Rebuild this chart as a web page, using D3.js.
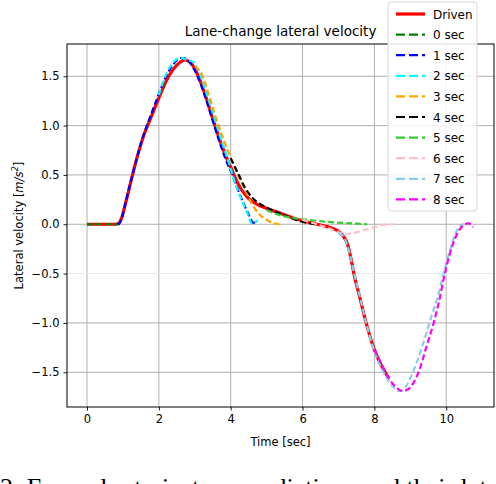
<!DOCTYPE html>
<html><head><meta charset="utf-8">
<script src="https://cdn.jsdelivr.net/npm/d3@7"></script>
<style>body{margin:0;background:#fff;overflow:hidden}svg{display:block}</style>
</head><body>
<svg id="c" width="496" height="484"></svg>
<script>
// ---- data ----
const seriesNames = ["Driven","0 sec","1 sec","2 sec","3 sec","4 sec","5 sec","6 sec","7 sec","8 sec"];
const seriesColors = ["#ff0000","#008000","#0000ff","#00ffff","#ffa500","#000000","#32cd32","#ffc0cb","#87ceeb","#ff00ff"];
const driven = [[0,0],[0.8,0],[0.88,0.01],[0.96,0.06],[1.05,0.18],[1.2,0.4],[1.35,0.62],[1.57,0.89],[1.8,1.1],[2.0,1.28],[2.2,1.45],[2.4,1.57],[2.6,1.645],[2.72,1.665],[2.9,1.63],[3.1,1.5],[3.3,1.3],[3.5,1.07],[3.7,0.85],[3.9,0.66],[4.0,0.58],[4.1,0.49],[4.3,0.35],[4.5,0.26],[4.8,0.19],[5.0,0.16],[5.4,0.11],[5.9,0.045],[6.4,0.0],[6.95,-0.06],[7.13,-0.12],[7.25,-0.2],[7.35,-0.35],[7.43,-0.5],[7.6,-0.75],[7.77,-1.0],[7.95,-1.22],[8.1,-1.36],[8.3,-1.5],[8.4,-1.56]];
const pred0 = [[0,0],[0.92,0]];
const pred1 = [[0.85,0.0],[0.92,0.02],[1.0,0.1],[1.1,0.26],[1.3,0.55],[1.57,0.9],[1.8,1.13],[2.0,1.32],[2.2,1.5],[2.4,1.62],[2.6,1.685],[2.75,1.68],[2.9,1.62],[3.1,1.48],[3.3,1.28],[3.5,1.05],[3.7,0.82],[3.9,0.62],[4.05,0.5],[4.2,0.35],[4.35,0.22],[4.5,0.1],[4.63,0.016],[4.75,0.02]];
const pred2 = [[2.0,1.31],[2.2,1.52],[2.4,1.64],[2.6,1.69],[2.75,1.67],[2.95,1.645],[3.1,1.56],[3.3,1.36],[3.5,1.13],[3.7,0.9],[3.9,0.68],[4.07,0.48],[4.2,0.34],[4.35,0.21],[4.5,0.08],[4.58,0.01],[4.68,0.02],[4.75,0.04]];
const pred3 = [[3.0,1.6],[3.2,1.52],[3.4,1.3],[3.6,1.07],[3.8,0.86],[4.0,0.67],[4.2,0.5],[4.4,0.35],[4.6,0.2],[4.8,0.1],[5.0,0.045],[5.2,0.01],[5.35,0.0]];
const pred4 = [[4.0,0.67],[4.2,0.52],[4.4,0.37],[4.6,0.27],[4.8,0.21],[5.0,0.17],[5.3,0.12],[5.6,0.075],[5.9,0.035],[6.2,0.01],[6.35,0.0]];
const pred5 = [[5.0,0.145],[5.3,0.1],[5.65,0.07],[6.0,0.05],[6.4,0.035],[6.8,0.022],[7.2,0.012],[7.5,0.006],[7.8,0.0]];
const pred6 = [[6.0,0.045],[6.4,0.0],[6.8,-0.05],[7.0,-0.08],[7.2,-0.1],[7.4,-0.09],[7.6,-0.07],[7.8,-0.05],[8.0,-0.03],[8.2,-0.01],[8.55,0.0]];
const pred7 = [[7.0,-0.09],[7.15,-0.13],[7.3,-0.28],[7.45,-0.52],[7.6,-0.74],[7.77,-1.0],[7.95,-1.23],[8.1,-1.38],[8.3,-1.53],[8.5,-1.64],[8.7,-1.69],[8.85,-1.66],[9.0,-1.56],[9.2,-1.38],[9.45,-1.1],[9.6,-0.92],[9.75,-0.75],[9.95,-0.47],[10.1,-0.27],[10.25,-0.1],[10.4,-0.01],[10.5,0.0]];
const pred8 = [[8.0,-1.27],[8.2,-1.42],[8.4,-1.56],[8.6,-1.65],[8.78,-1.69],[8.95,-1.67],[9.1,-1.6],[9.25,-1.48],[9.45,-1.24],[9.65,-1.0],[9.8,-0.78],[9.95,-0.52],[10.1,-0.3],[10.25,-0.14],[10.4,-0.04],[10.52,0.0],[10.62,0.01],[10.75,-0.03]];
const allSeries = [driven,pred0,pred1,pred2,pred3,pred4,pred5,pred6,pred7,pred8];
const xTicks = [0,2,4,6,8,10];
const yTicks = [-1.5,-1.0,-0.5,0.0,0.5,1.0,1.5];
const titleText = "Lane-change lateral velocity";
const xLabelText = "Time [sec]";
const captionText = "2:  Exemplar trajectory predictions and their lateral velocities and";

// ---- layout ----
const L=67,R=494,T=44,B=407;
const svg=d3.select("#c");
const x=d3.scaleLinear().domain([-0.557,11.33]).range([L,R]);
const y=d3.scaleLinear().domain([-1.852,1.827]).range([B,T]);
const font="DejaVu Sans, sans-serif";

// grid
const g=svg.append("g");
g.selectAll(".gx").data(xTicks).join("line").attr("x1",d=>x(d)).attr("x2",d=>x(d)).attr("y1",T).attr("y2",B).attr("stroke","#b0b0b0").attr("stroke-width",1);
g.selectAll(".gy").data(yTicks).join("line").attr("y1",d=>y(d)).attr("y2",d=>y(d)).attr("x1",L).attr("x2",R).attr("stroke",d=>d===-0.5?"#ebebeb":"#b0b0b0").attr("stroke-width",1);

// clip
svg.append("clipPath").attr("id","clip").append("rect").attr("x",L).attr("y",T).attr("width",R-L).attr("height",B-T);
const line=d3.line().x(d=>x(d[0])).y(d=>y(d[1])).curve(d3.curveMonotoneX);
const lg=svg.append("g").attr("clip-path","url(#clip)");
allSeries.forEach((s,i)=>{
  lg.append("path").attr("d",line(s)).attr("fill","none").attr("stroke",seriesColors[i])
    .attr("stroke-width",i===0?3.2:2.2).attr("stroke-dasharray",i===0?null:"6,3").attr("stroke-linecap","butt");
});

// axes
const xa=d3.axisBottom(x).tickValues(xTicks).tickSize(3.5).tickPadding(4).tickFormat(d3.format("d"));
const ya=d3.axisLeft(y).tickValues(yTicks).tickSize(3.5).tickPadding(4).tickFormat(d=>d3.format(".1f")(d).replace("-","\u2212"));
const gx=svg.append("g").attr("transform",`translate(0,${B})`).call(xa);
const gy=svg.append("g").attr("transform",`translate(${L},0)`).call(ya);
[gx,gy].forEach(a=>{a.select(".domain").remove();a.selectAll("text").attr("font-family",font).attr("font-size",11.5).attr("fill","#000");a.selectAll("line").attr("stroke","#000").attr("stroke-width",0.9);});
svg.append("rect").attr("x",L).attr("y",T).attr("width",R-L).attr("height",B-T).attr("fill","none").attr("stroke","#000").attr("stroke-width",1);

// labels
svg.append("text").attr("x",(L+R)/2).attr("y",36).attr("text-anchor","middle").attr("font-family",font).attr("font-size",13.5).text(titleText);
svg.append("text").attr("x",(L+R)/2).attr("y",446).attr("text-anchor","middle").attr("font-family",font).attr("font-size",11.5).text(xLabelText);
const yl=svg.append("text").attr("transform",`translate(23,${(T+B)/2}) rotate(-90)`).attr("text-anchor","middle").attr("font-family",font).attr("font-size",11.5);
yl.append("tspan").text("Lateral velocity [");
yl.append("tspan").attr("font-style","italic").text("m/s");
yl.append("tspan").attr("font-style","italic").attr("font-size",8.5).attr("dy",-5).text("2");
yl.append("tspan").attr("dy",5).text("]");

// legend
const lgx=388, lgy=2, rowH=20.6;
const leg=svg.append("g");
leg.append("rect").attr("x",lgx).attr("y",lgy).attr("width",89).attr("height",209).attr("rx",3).attr("fill","#fff").attr("fill-opacity",0.85).attr("stroke","#d6d6d6").attr("stroke-width",1);
seriesNames.forEach((n,i)=>{
  const cy=lgy+12+i*rowH;
  leg.append("line").attr("x1",lgx+8).attr("x2",lgx+37).attr("y1",cy).attr("y2",cy).attr("stroke",seriesColors[i]).attr("stroke-width",i===0?3.2:2.2).attr("stroke-dasharray",i===0?null:"9,4");
  leg.append("text").attr("x",lgx+45).attr("y",cy+4.5).attr("font-family",font).attr("font-size",12).text(n);
});

// caption (cut off at the bottom edge, as in the source image)
svg.append("text").attr("x",0).attr("y",496).attr("font-family","Liberation Serif, serif").attr("font-size",26).text(captionText);
</script>
</body></html>
